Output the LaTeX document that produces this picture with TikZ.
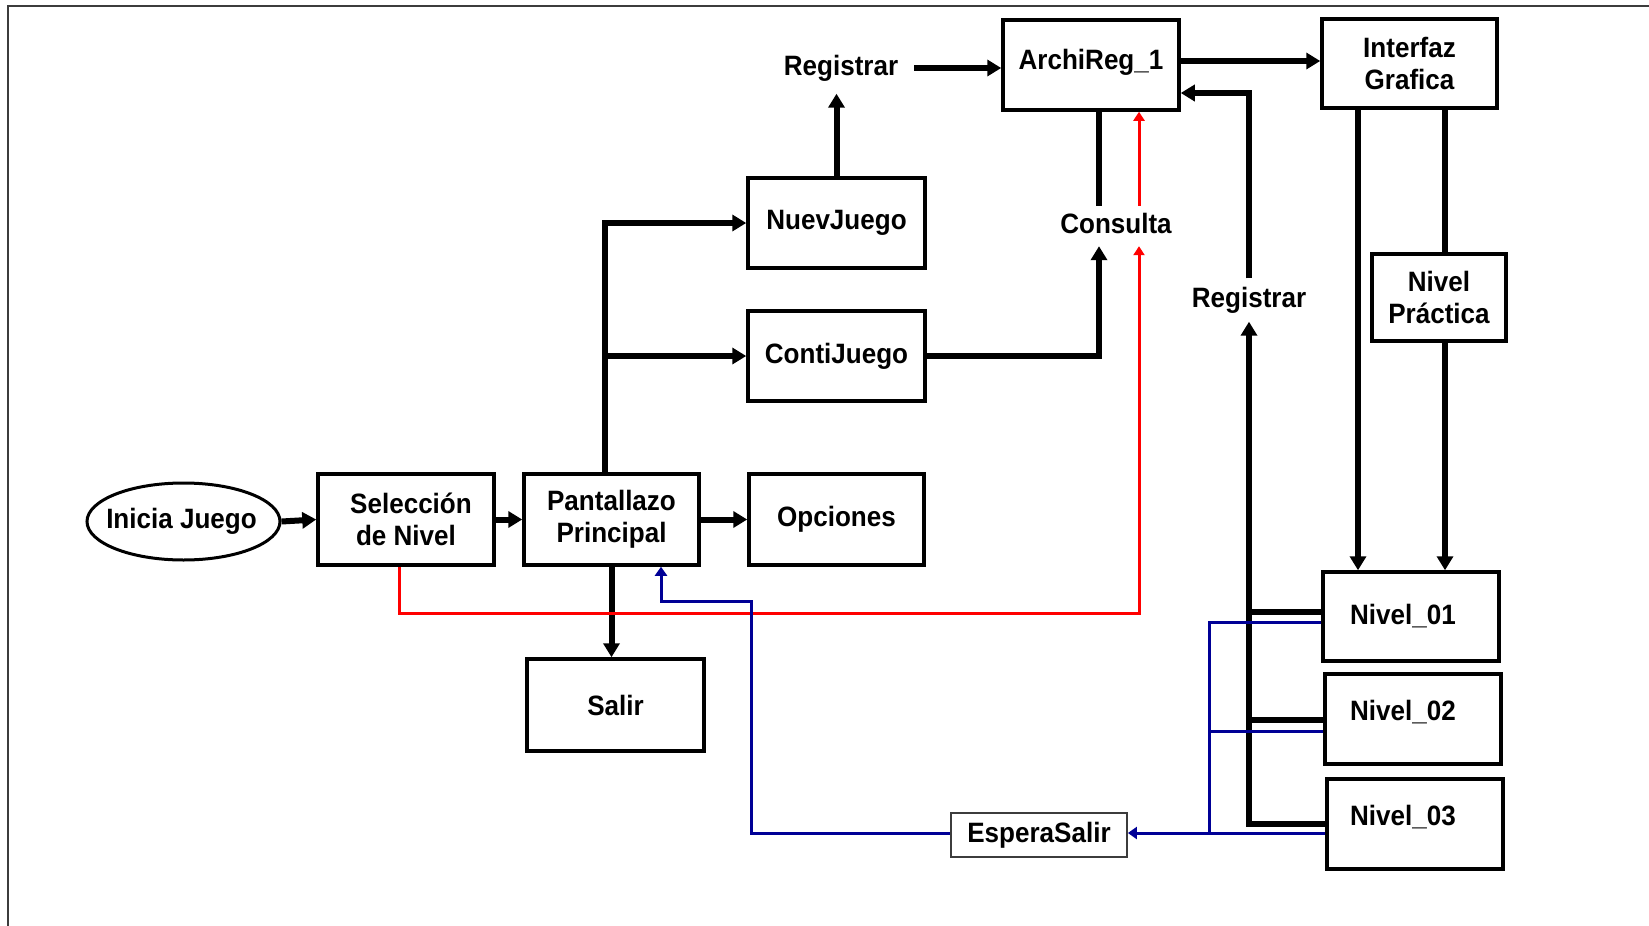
\documentclass[tikz,border=0pt]{standalone}
\usepackage{fontspec}
\newfontfamily\labfont{Liberation Sans}[FakeStretch=0.93]
\usetikzlibrary{arrows.meta,shapes.geometric}
\newcommand\lblfont{\labfont\bfseries\fontsize{28}{32}\selectfont}
\definecolor{navy}{RGB}{0,0,150}
\definecolor{framegray}{RGB}{60,60,60}
\begin{document}
\begin{tikzpicture}[x=1pt,y=-1pt,
  every node/.style={font=\lblfont},
  box/.style={draw, line width=3.5pt, inner sep=0pt, align=center},
  lbl/.style={inner sep=0pt, text height=20pt, text depth=6pt},
  blk/.style={line width=6pt, draw=black},
  blkarr/.style={blk, -{Triangle[length=14pt,width=16pt]}},
  redl/.style={line width=3pt, draw=red},
  redarr/.style={redl, -{Triangle[length=9pt,width=11pt]}},
  blul/.style={line width=3pt, draw=navy},
  bluarr/.style={blul, -{Triangle[length=9pt,width=12pt]}}
]
\useasboundingbox (0,0) rectangle (1649,926);
\fill[white] (0,0) rectangle (1649,926);
\draw[line width=2.5pt, framegray] (8,926) -- (8,6) -- (1649,6);

% nodes
\node[ellipse, draw, line width=3pt, minimum width=193pt, minimum height=77pt, inner sep=0pt,
      label={[xshift=-2pt]center:Inicia Juego}] (ini) at (183.5,521.5) {};
\node[box, minimum width=176pt, minimum height=91pt] (sel) at (406,519.5) {\hspace*{10pt}Selección\\de Nivel};
\node[box, minimum width=175pt, minimum height=91pt] (pan) at (611.5,519.5) {Pantallazo\\Principal};
\node[box, minimum width=175pt, minimum height=91pt] (opc) at (836.5,519.5) {Opciones};
\node[box, minimum width=177pt, minimum height=92pt] (sal) at (615.5,705) {Salir};
\node[box, minimum width=177pt, minimum height=90pt] (nue) at (836.5,223) {NuevJuego};
\node[box, minimum width=177pt, minimum height=90pt] (con) at (836.5,356) {ContiJuego};
\node[box, minimum width=176pt, minimum height=90pt, text depth=12pt] (arc) at (1091,65) {ArchiReg\_1};
\node[box, minimum width=175pt, minimum height=89pt] (gui) at (1409.5,63.5) {Interfaz\\Grafica};
\node[box, minimum width=134pt, minimum height=87pt] (npr) at (1439,297.5) {Nivel\\Práctica};
\node[box, minimum width=176pt, minimum height=89pt,
      label={[xshift=-8pt]center:Nivel\_01}] (n1) at (1411,616.5) {};
\node[box, minimum width=176pt, minimum height=90pt,
      label={[xshift=-10pt,yshift=6.5pt]center:Nivel\_02}] (n2) at (1413,719) {};
\node[box, minimum width=176pt, minimum height=90pt,
      label={[xshift=-12pt,yshift=6.5pt]center:Nivel\_03}] (n3) at (1415,824) {};
\node[draw, line width=1.8pt, draw=framegray, minimum width=176pt, minimum height=44pt, inner sep=0pt] (esp) at (1039,835) {EsperaSalir};

\node[lbl, inner xsep=16pt, inner ysep=12.5pt] (reg1) at (841,68) {Registrar};
\node[lbl, inner ysep=7pt] (cons) at (1116,226) {Consulta};
\node[lbl, inner ysep=8.5pt] (reg2) at (1249,300) {Registrar};

% helper coordinates
\coordinate (jx) at (605,0);
\coordinate (ya) at (0,61);
\coordinate (yb) at (0,93);
\coordinate (xc1) at (1099,0);
\coordinate (xc2) at (1139,0);
\coordinate (xr0) at (399,0);
\coordinate (yr) at (0,613);
\coordinate (xi1) at (1358,0);
\coordinate (xi2) at (1445,0);
\coordinate (yk1) at (0,612);
\coordinate (yk2) at (0,720);
\coordinate (b1) at (0,622);
\coordinate (b2) at (0,731);
\coordinate (bj) at (1209,833);
\coordinate (bu) at (751,601);
\coordinate (xb) at (661,0);

% black connectors
\draw[blkarr] (ini.east) -- (sel.west);
\draw[blkarr] (sel.east) -- (pan.west);
\draw[blkarr] (pan.east) -- (opc.west);
\draw[blkarr] (pan.south) -- (pan.south |- sal.north);
\draw[blkarr] (pan.north -| jx) |- (nue.west);
\draw[blkarr] (con.west -| jx) -- (con.west);
\draw[blkarr] (nue.north) -- (nue.north |- reg1.south);
\draw[blkarr] (reg1.east) -- (reg1.east -| arc.west);
\draw[blkarr] (arc.east |- ya) -- (gui.west |- ya);
\draw[blkarr] (reg2.north) |- (arc.east |- yb);
\draw[blkarr] (con.east) -| (cons.south -| xc1);
\draw[blk] (arc.south -| xc1) -- (cons.north -| xc1);
\draw[blkarr] (n3.west) -| (reg2.south);
\draw[blk] (n1.west |- yk1) -- (reg2 |- yk1);
\draw[blk] (n2.west |- yk2) -- (reg2 |- yk2);
\draw[blkarr] (gui.south -| xi1) -- (n1.north -| xi1);
\draw[blk] (gui.south -| xi2) -- (npr.north -| xi2);
\draw[blkarr] (npr.south -| xi2) -- (n1.north -| xi2);

% red connectors
\draw[redarr] (sel.south -| xr0) |- (yr -| xc2) -- (cons.south -| xc2);
\draw[redarr] (cons.north -| xc2) -- (arc.south -| xc2);

% blue connectors
\draw[blul] (n1.west |- b1) -| (bj);
\draw[blul] (n2.west |- b2) -- (bj |- b2);
\draw[bluarr] (n3.west |- bj) -- (esp.east |- bj);
\draw[bluarr] (esp.west |- bj) -| (bu) -| (pan.south -| xb);
\end{tikzpicture}
\end{document}
